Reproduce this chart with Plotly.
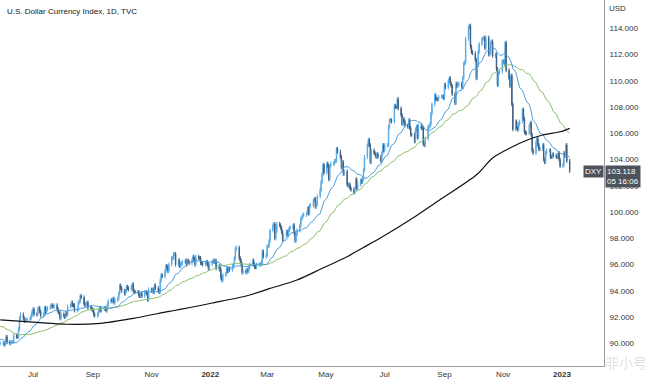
import pandas as pd
import plotly.graph_objects as go

# Daily closes of DXY, one row per week (Mon..Fri), starting Mon 2021-03-15
closes_2021 = [
    91.8, 91.9, 91.4, 91.9, 91.9,
    91.7, 92.3, 92.5, 92.8, 92.8,
    92.9, 93.3, 93.2, 93.0, 92.9,
    92.6, 92.3, 92.5, 92.1, 92.2,
    92.2, 91.8, 91.7, 91.7, 91.6,
    91.1, 91.2, 91.3, 91.3, 90.9,
    90.8, 90.9, 90.6, 90.6, 91.3,
    91.0, 91.3, 91.3, 91.2, 90.2,
    90.2, 90.1, 90.7, 90.7, 90.3,
    90.2, 89.7, 90.1, 89.8, 90.0,
    89.8, 89.6, 90.0, 90.0, 90.0,
    90.0, 89.9, 90.0, 90.5, 90.1,
    90.0, 90.1, 90.1, 90.1, 90.6,
    90.5, 90.5, 91.1, 91.9, 92.2,
    91.9, 91.7, 91.8, 91.8, 91.8,
    91.9, 92.1, 92.4, 92.6, 92.2,
    92.2, 92.6, 92.7, 92.4, 92.1,
    92.2, 92.7, 92.4, 92.6, 92.7,
    92.8, 92.9, 92.8, 92.8, 92.9,
    92.6, 92.4, 92.3, 91.9, 92.2,
    92.1, 92.0, 92.3, 92.2, 92.8,
    92.9, 93.1, 92.9, 92.9, 92.5,
    92.6, 93.1, 93.2, 93.6, 93.5,
    93.0, 92.9, 93.0, 93.1, 92.7,
    92.7, 92.6, 92.5, 92.2, 92.1,
    92.2, 92.5, 92.7, 92.5, 92.6,
    92.7, 92.6, 92.5, 92.9, 93.2,
    93.3, 93.2, 93.4, 93.1, 93.3,
    93.4, 93.8, 94.4, 94.2, 94.0,
    93.8, 94.0, 94.3, 94.2, 94.1,
    94.3, 94.5, 94.0, 93.9, 93.9,
    93.9, 93.6, 93.6, 93.8, 93.6,
    93.9, 93.9, 93.8, 93.3, 94.1,
    94.0, 94.1, 93.9, 94.4, 94.2,
    94.0, 93.9, 94.8, 95.2, 95.1,
    95.5, 95.9, 95.8, 95.5, 96.0,
    96.5, 96.5, 96.8, 96.8, 96.0,
    96.3, 95.9, 96.0, 96.1, 96.2,
    96.3, 96.0, 96.3, 96.2, 96.1,
    96.3, 96.6, 96.4, 96.0, 96.6,
    96.5, 96.5, 96.1, 96.1, 96.0,
    96.1, 96.2, 96.0, 95.7, 96.0,
]
closes_2022 = [
    96.2, 96.3, 96.2, 96.3, 95.7,
    95.9, 95.6, 95.0, 94.8, 95.2,
    95.3, 95.7, 95.5, 95.7, 95.6,
    95.9, 96.0, 96.5, 97.2, 97.3,
    96.5, 96.3, 96.0, 95.4, 95.5,
    95.4, 95.6, 95.5, 95.8, 96.0,
    96.3, 96.0, 95.8, 95.8, 96.0,
    96.0, 96.0, 96.2, 97.0, 96.6,
    96.7, 97.4, 97.4, 97.8, 98.6,
    99.0, 99.1, 98.0, 98.5, 99.1,
    99.0, 98.8, 98.5, 97.9, 98.2,
    98.5, 98.3, 98.6, 98.8, 98.8,
    99.0, 98.4, 97.8, 98.3, 98.6,
    99.0, 99.5, 99.6, 99.8, 99.8,
    99.9, 100.3, 99.9, 100.5, 100.5,
    100.9, 101.0, 100.4, 100.6, 101.2,
    101.7, 102.3, 102.9, 103.6, 103.0,
    103.7, 103.5, 102.5, 103.5, 103.7,
    103.7, 103.9, 103.9, 104.8, 104.6,
    104.2, 103.4, 103.8, 102.9, 103.1,
    102.1, 102.0, 102.1, 101.8, 101.7,
    101.5, 101.8, 102.5, 101.8, 102.1,
    102.4, 102.3, 102.5, 103.2, 104.2,
    105.1, 105.5, 105.1, 103.8, 104.7,
    104.5, 104.4, 104.2, 104.4, 104.2,
    103.9, 104.5, 105.1, 104.7, 105.1,
    105.1, 106.5, 107.0, 107.0, 106.9,
    108.1, 108.0, 108.0, 108.6, 107.9,
    107.4, 106.7, 107.1, 106.9, 106.6,
    106.5, 107.0, 106.4, 105.9, 105.9,
    105.4, 106.3, 106.5, 105.7, 106.6,
    106.4, 106.4, 105.2, 105.1, 105.6,
    106.5, 106.5, 106.7, 107.5, 108.2,
    108.9, 108.6, 108.6, 108.6, 108.8,
    108.8, 108.8, 108.7, 109.7, 109.5,
    110.0, 110.2, 109.8, 109.6, 109.0,
    108.3, 109.8, 109.6, 109.7, 109.8,
    109.5, 110.2, 111.3, 111.4, 113.2,
    114.1, 114.2, 112.6, 112.2, 112.1,
    111.6, 110.2, 111.2, 112.2, 112.8,
    113.2, 113.2, 113.3, 112.5, 113.3,
    112.0, 112.1, 112.9, 113.0, 111.9,
    112.0, 110.9, 109.7, 110.6, 110.7,
    111.5, 111.5, 111.3, 112.9, 110.8,
    110.2, 109.6, 110.4, 108.2, 106.3,
    106.9, 106.4, 106.3, 106.7, 106.9,
    107.8, 107.1, 106.1, 106.0, 106.0,
    106.6, 106.8, 105.9, 104.7, 104.5,
    105.3, 105.6, 105.1, 104.8, 104.8,
    105.1, 104.0, 103.8, 104.5, 104.7,
    104.7, 104.2, 104.2, 104.4, 104.3,
    104.2, 104.2, 104.5, 104.0, 103.5,
]
closes_2023 = [103.6, 104.5, 104.3, 105.1, 103.9, 103.118]

ma200_dates = ["2021-05-28", "2021-07-01", "2021-08-05", "2021-09-09", "2021-10-13",
               "2021-11-18", "2021-12-02", "2021-12-23", "2022-01-03", "2022-02-08",
               "2022-03-04", "2022-04-01", "2022-04-28", "2022-05-23", "2022-06-08",
               "2022-06-26", "2022-07-27", "2022-08-30", "2022-10-04", "2022-10-21",
               "2022-11-08", "2022-11-26", "2022-12-12", "2022-12-30", "2023-01-09"]
ma200_values = [91.78, 91.62, 91.45, 91.52, 91.90,
                92.41, 92.60, 92.90, 93.07, 93.62,
                94.18, 94.82, 95.74, 96.60, 97.26,
                98.00, 99.39, 101.07, 102.82, 104.12,
                104.88, 105.49, 105.87, 106.12, 106.38]

y_ticks = [90, 92, 94, 96, 98, 100, 102, 104, 106, 108, 110, 112, 114]
x_tick_dates = ["2021-07-01", "2021-09-01", "2021-11-01", "2022-01-01", "2022-03-01",
                "2022-05-01", "2022-07-01", "2022-09-01", "2022-11-01", "2023-01-01"]
x_tick_labels = ["Jul", "Sep", "Nov", "<b>2022</b>", "Mar", "May", "Jul", "Sep", "Nov", "<b>2023</b>"]

close = pd.Series(closes_2021 + closes_2022 + closes_2023, dtype=float)
dates = pd.bdate_range("2021-03-15", periods=len(close))
openp = close.shift(1).fillna(close.iloc[0])
WICK = 0.15
high = pd.concat([openp, close], axis=1).max(axis=1) + WICK
low = pd.concat([openp, close], axis=1).min(axis=1) - WICK
ma20 = close.rolling(20).mean()
ma50 = close.rolling(50).mean()

UP = "#58aae6"
DOWN = "#3f5f80"
FONT = "Liberation Sans"

fig = go.Figure()
fig.add_trace(go.Candlestick(
    x=dates, open=openp, high=high, low=low, close=close,
    increasing=dict(line=dict(color=UP, width=1), fillcolor=UP),
    decreasing=dict(line=dict(color=DOWN, width=1), fillcolor=DOWN),
    whiskerwidth=0, showlegend=False, hoverinfo="skip"))
fig.add_trace(go.Scatter(x=dates, y=ma50, mode="lines",
                         line=dict(color="#8cc06e", width=1), showlegend=False, hoverinfo="skip"))
fig.add_trace(go.Scatter(x=dates, y=ma20, mode="lines",
                         line=dict(color="#4a9ee0", width=1), showlegend=False, hoverinfo="skip"))
fig.add_trace(go.Scatter(x=pd.to_datetime(ma200_dates), y=ma200_values, mode="lines",
                         line=dict(color="#111111", width=1.2, shape="spline", smoothing=0.8),
                         showlegend=False, hoverinfo="skip"))

fig.update_layout(
    width=651, height=384,
    margin=dict(l=0, r=47, t=0, b=18),
    paper_bgcolor="white", plot_bgcolor="white",
    font=dict(family=FONT, size=8, color="#333333"),
    xaxis=dict(type="date", range=["2021-05-27 18:00", "2023-02-13 14:00"],
               rangeslider=dict(visible=False), showgrid=False, zeroline=False,
               showline=True, linecolor="#9a9a9a", linewidth=1,
               tickvals=x_tick_dates, ticktext=x_tick_labels, ticks="", ticklen=0,
               tickfont=dict(size=8, color="#333333")),
    yaxis=dict(side="right", range=[88.27, 116.16], showgrid=False, zeroline=False,
               showline=True, linecolor="#9a9a9a", linewidth=1,
               tickvals=y_ticks, tickformat=".3f", ticks="", ticklen=0,
               ticklabelstandoff=3, tickfont=dict(size=8, color="#333333")),
    annotations=[
        dict(text="U.S. Dollar Currency Index, 1D, TVC", xref="paper", yref="paper",
             x=0.008, y=0.985, xanchor="left", yanchor="top", showarrow=False,
             font=dict(size=8, color="#131722", family=FONT)),
        dict(text="USD", xref="paper", yref="paper", x=1.0, y=0.995, xanchor="left",
             yanchor="top", xshift=3, showarrow=False, font=dict(size=8, color="#333333")),
        dict(text="DXY", xref="paper", yref="y", x=1.0, y=closes_2023[-1], xanchor="right",
             yanchor="middle", showarrow=False, bgcolor="#4d525c", borderpad=1,
             font=dict(size=8, color="white")),
        dict(text="103.118<br>05 16:06", xref="paper", yref="y", x=1.0, y=closes_2023[-1],
             xanchor="left", yanchor="top", yshift=6, xshift=1, showarrow=False,
             bgcolor="#4d525c", borderpad=1, align="left",
             font=dict(size=8, color="white")),
        dict(text="非小号", xref="paper", yref="paper", x=1.075, y=0.012, xanchor="right",
             yanchor="middle", showarrow=False,
             font=dict(size=14, color="rgba(160,160,160,0.35)", family="Noto Sans CJK SC")),
    ],
)

fig.write_html("out.html", config=dict(displayModeBar=False),
               post_script="document.body.style.margin='0';document.body.style.overflow='hidden';")
